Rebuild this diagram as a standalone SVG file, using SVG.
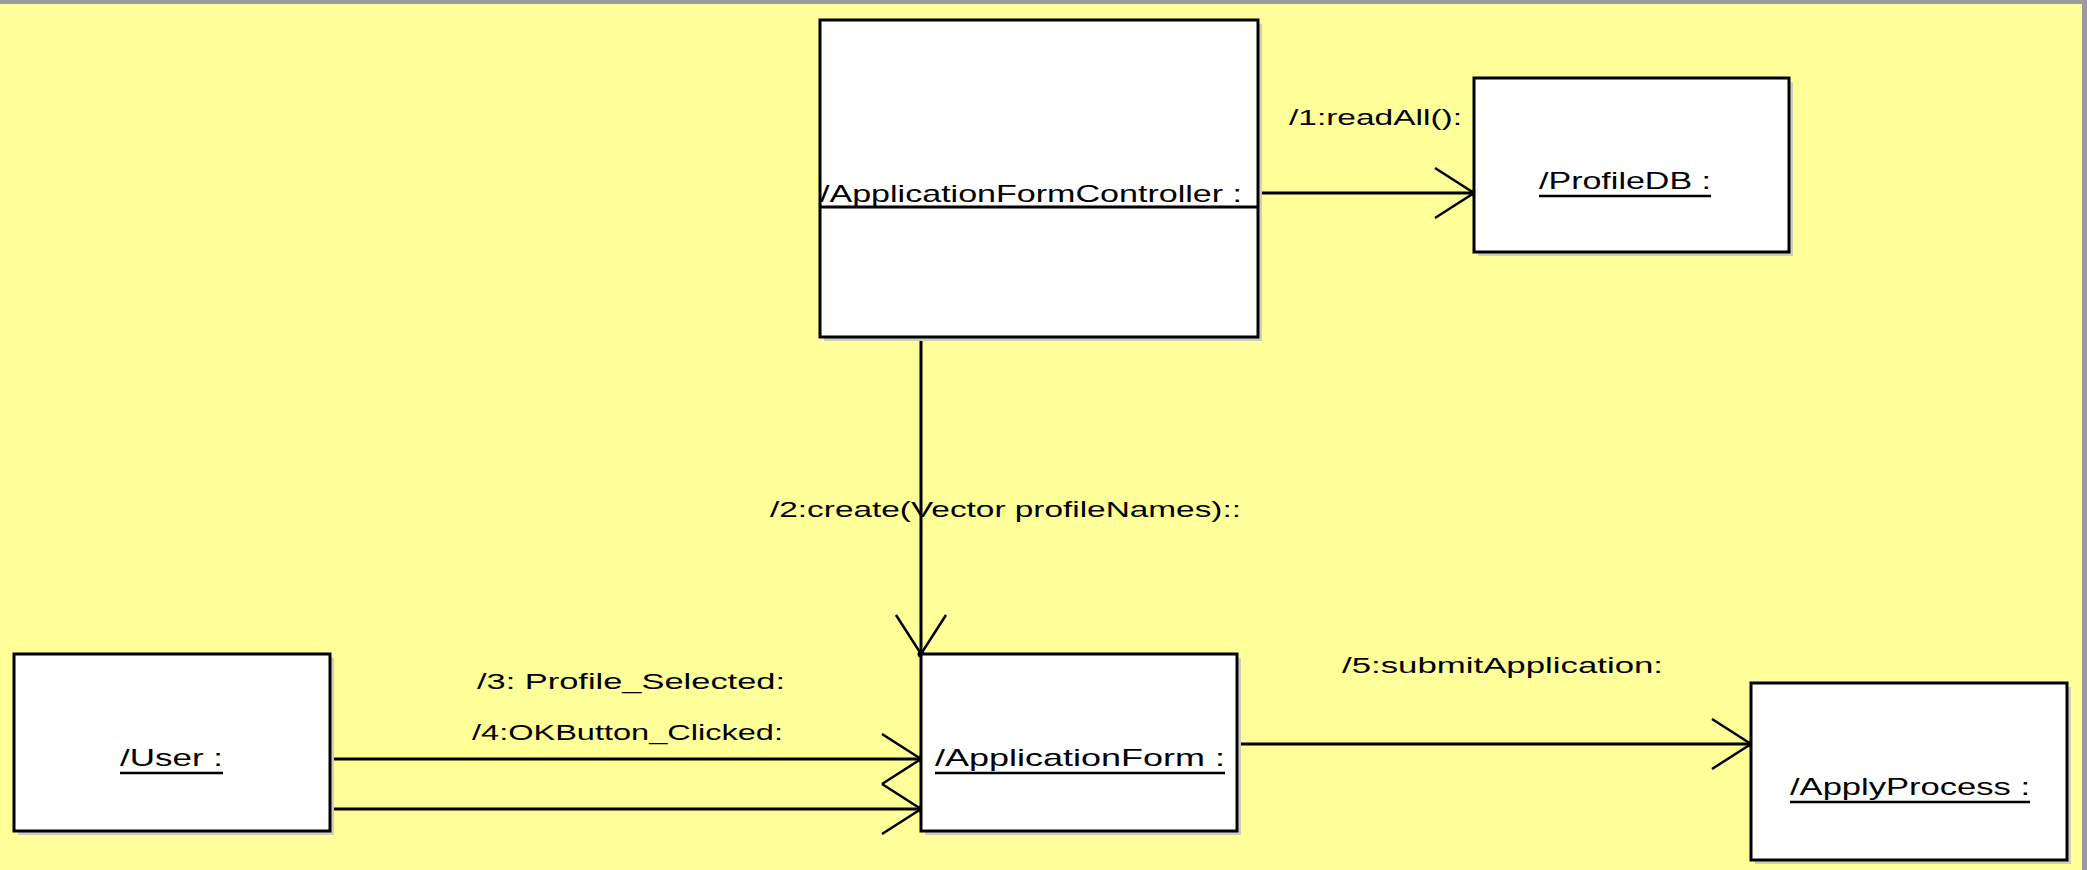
<svg xmlns="http://www.w3.org/2000/svg" width="2087" height="870" viewBox="0 0 2087 870">
<defs>
<style>
.bg{fill:#FFFF99}
.frame{fill:#9a9a9a}
.shadow{fill:#cfcfbf}
.box{fill:#ffffff;stroke:#000000;stroke-width:3}
.div{stroke:#000000;stroke-width:3}
.name{font-family:"Liberation Sans",Arial,sans-serif;font-size:24px;fill:#000000}
.lbl{font-family:"Liberation Sans",Arial,sans-serif;font-size:22px;fill:#000000}
.ul{stroke:#000000;stroke-width:2.5}
.conn{stroke:#000000;stroke-width:3;fill:none}
</style>
<marker id="open" markerUnits="userSpaceOnUse" markerWidth="50" markerHeight="60" refX="0" refY="0" viewBox="-45 -30 50 60" orient="auto" overflow="visible">
<path d="M -39 -25 L 0 0 L -39 25" fill="none" stroke="#000000" stroke-width="2.5"/>
<circle cx="0" cy="0" r="3.5" fill="#000000"/>
</marker>
</defs>
<rect class="bg" x="0" y="0" width="2087" height="870"/>
<rect class="frame" x="0" y="0" width="2087" height="4"/>
<rect class="frame" x="2082" y="0" width="5" height="870"/>

<g id="connectors">
<line class="conn" x1="1258" y1="193" x2="1474" y2="193" marker-end="url(#open)"/>
<line class="conn" x1="921" y1="337" x2="921" y2="654" marker-end="url(#open)"/>
<line class="conn" x1="330" y1="759" x2="921" y2="759" marker-end="url(#open)"/>
<line class="conn" x1="330" y1="809" x2="921" y2="809" marker-end="url(#open)"/>
<line class="conn" x1="1237" y1="744" x2="1751" y2="744" marker-end="url(#open)"/>
<text class="lbl" x="1289" y="125" textLength="173" lengthAdjust="spacingAndGlyphs">/1:readAll():</text>
<text class="lbl" x="770" y="517" textLength="471" lengthAdjust="spacingAndGlyphs">/2:create(Vector profileNames)::</text>
<text class="lbl" x="477" y="689" textLength="308" lengthAdjust="spacingAndGlyphs">/3: Profile_Selected:</text>
<text class="lbl" x="472" y="740" textLength="311" lengthAdjust="spacingAndGlyphs">/4:OKButton_Clicked:</text>
<text class="lbl" x="1342" y="673" textLength="321" lengthAdjust="spacingAndGlyphs">/5:submitApplication:</text>
</g>

<g id="controller">
<rect class="shadow" x="824" y="24" width="438" height="317"/>
<rect class="box" x="820" y="20" width="438" height="317"/>
<line class="div" x1="820" y1="207" x2="1258" y2="207"/>
<text class="name" x="820" y="202" textLength="422" lengthAdjust="spacingAndGlyphs">/ApplicationFormController :</text>
</g>

<g id="profiledb">
<rect class="shadow" x="1478" y="82" width="315" height="174"/>
<rect class="box" x="1474" y="78" width="315" height="174"/>
<text class="name" x="1539" y="189" textLength="172" lengthAdjust="spacingAndGlyphs">/ProfileDB :</text>
<line class="ul" x1="1539" y1="196" x2="1711" y2="196"/>
</g>

<g id="user">
<rect class="shadow" x="18" y="658" width="316" height="177"/>
<rect class="box" x="14" y="654" width="316" height="177"/>
<text class="name" x="120" y="766" textLength="103" lengthAdjust="spacingAndGlyphs">/User :</text>
<line class="ul" x1="120" y1="773" x2="223" y2="773"/>
</g>

<g id="applicationform">
<rect class="shadow" x="925" y="658" width="316" height="177"/>
<rect class="box" x="921" y="654" width="316" height="177"/>
<text class="name" x="935" y="766" textLength="290" lengthAdjust="spacingAndGlyphs">/ApplicationForm :</text>
<line class="ul" x1="935" y1="773" x2="1225" y2="773"/>
</g>

<g id="applyprocess">
<rect class="shadow" x="1755" y="687" width="316" height="177"/>
<rect class="box" x="1751" y="683" width="316" height="177"/>
<text class="name" x="1790" y="795" textLength="240" lengthAdjust="spacingAndGlyphs">/ApplyProcess :</text>
<line class="ul" x1="1790" y1="802" x2="2030" y2="802"/>
</g>
</svg>
